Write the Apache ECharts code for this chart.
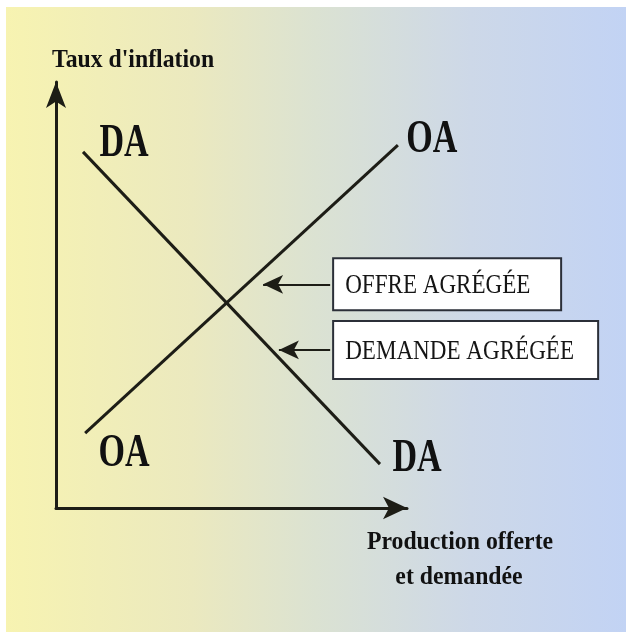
<!DOCTYPE html>
<html>
<head>
<meta charset="utf-8">
<script src="https://cdn.jsdelivr.net/npm/echarts@6/dist/echarts.min.js"></script>
<style>
  html, body { margin: 0; padding: 0; background: #ffffff; }
  #chart { width: 626px; height: 632px; }
</style>
</head>
<body>
<div id="chart"></div>
<script>
// Aggregate supply / demand diagram (abstract units 0..100 on both axes)
const curveNames = ['OA', 'DA'];
const supplyCurve = [[8.3, 17.6], [97.4, 85.2]];   // OA: offre agrégée
const demandCurve = [[7.7, 83.6], [92.3, 10.3]];   // DA: demande agrégée
// pointers from the caption boxes to each curve: [tail, head]
const supplyPointer = [[78.1, 52.5], [59.0, 52.5]];
const demandPointer = [[78.1, 37.1], [63.5, 37.1]];
const captions = ['OFFRE AGRÉGÉE', 'DEMANDE AGRÉGÉE'];
const yAxisTitle = "Taux d'inflation";
const xAxisTitle = ['Production offerte', 'et demandée'];

const ink = '#1d1d16';
const chart = echarts.init(document.getElementById('chart'), null, { renderer: 'canvas' });

function pointer(data) {
  return {
    silent: true,
    symbol: ['none', 'arrow'],
    symbolSize: [14, 20],
    label: { show: false },
    lineStyle: { color: ink, width: 2, type: 'solid' },
    data: [[{ coord: data[0] }, { coord: data[1] }]]
  };
}

const option = {
  animation: false,
  grid: { left: 56, top: 82, right: 219, bottom: 124, containLabel: false },
  xAxis: {
    type: 'value', min: 0, max: 100,
    axisLine: {
      show: true, onZero: false,
      symbol: ['none', 'arrow'], symbolSize: [17, 24], symbolOffset: [0, 0],
      lineStyle: { color: ink, width: 3 }
    },
    axisTick: { show: false }, axisLabel: { show: false }, splitLine: { show: false }
  },
  yAxis: {
    type: 'value', min: 0, max: 100,
    axisLine: {
      show: true, onZero: false,
      symbol: ['none', 'arrow'], symbolSize: [15, 26], symbolOffset: [0, 0],
      lineStyle: { color: ink, width: 3 }
    },
    axisTick: { show: false }, axisLabel: { show: false }, splitLine: { show: false }
  },
  series: [
    {
      name: curveNames[0], type: 'line', data: supplyCurve,
      showSymbol: false, clip: false,
      lineStyle: { color: ink, width: 3 },
      markLine: pointer(supplyPointer)
    },
    {
      name: curveNames[1], type: 'line', data: demandCurve,
      showSymbol: false, clip: false,
      lineStyle: { color: ink, width: 3 },
      markLine: pointer(demandPointer)
    }
  ]
};
chart.setOption(option);

const px = p => chart.convertToPixel({ gridIndex: 0 }, p);
const bigFont = 'bold 46px "Liberation Serif", "Times New Roman", serif';
const titleFont = 'bold 25px "Liberation Serif", "Times New Roman", serif';
const boxFont = '27px "Liberation Serif", "Times New Roman", serif';

function curveLabel(text, anchor, dx, dy) {
  const p = px(anchor);
  return {
    type: 'text', x: p[0] + dx, y: p[1] + dy, scaleX: 0.74, silent: true, z: 10,
    style: { text: text, font: bigFont, fill: '#111', textAlign: 'center', textVerticalAlign: 'middle' }
  };
}

function captionBox(text, tail, w, h) {
  const p = px(tail);
  return [
    {
      type: 'rect', silent: true, z: 5,
      shape: { x: p[0] + 3, y: p[1] - h / 2, width: w, height: h },
      style: { fill: '#ffffff', stroke: '#2b2f38', lineWidth: 2 }
    },
    {
      type: 'text', x: p[0] + 15, y: p[1] + 2, scaleX: 0.855, silent: true, z: 6,
      style: { text: text, font: boxFont, fill: '#151515', textAlign: 'left', textVerticalAlign: 'middle' }
    }
  ];
}

const origin = px([0, 0]);
const graphics = [
  {
    type: 'rect', silent: true, z: -10,
    shape: { x: 6, y: 7, width: 620, height: 625 },
    style: {
      fill: new echarts.graphic.LinearGradient(0, 0, 1, 0, [
        { offset: 0, color: '#f7f3b1' },
        { offset: 0.3, color: '#ebe9bf' },
        { offset: 0.5, color: '#dbe2d2' },
        { offset: 0.75, color: '#cdd8e8' },
        { offset: 1, color: '#c2d3f4' }
      ])
    }
  },
  curveLabel(curveNames[1], demandCurve[0], 41, -8),
  curveLabel(curveNames[0], supplyCurve[0], 39, 21),
  curveLabel(curveNames[0], supplyCurve[1], 34, -5),
  curveLabel(curveNames[1], demandCurve[1], 37, -5),
  ...captionBox(captions[0], supplyPointer[0], 228, 52),
  ...captionBox(captions[1], demandPointer[0], 265, 58),
  {
    type: 'text', x: origin[0] - 4, y: 61, scaleX: 0.95, silent: true, z: 10,
    style: { text: yAxisTitle, font: titleFont, fill: '#111', textAlign: 'left', textVerticalAlign: 'middle' }
  },
  {
    type: 'text', x: 460, y: 543, scaleX: 0.95, silent: true, z: 10,
    style: { text: xAxisTitle[0], font: titleFont, fill: '#111', textAlign: 'center', textVerticalAlign: 'middle' }
  },
  {
    type: 'text', x: 459, y: 578, scaleX: 0.95, silent: true, z: 10,
    style: { text: xAxisTitle[1], font: titleFont, fill: '#111', textAlign: 'center', textVerticalAlign: 'middle' }
  }
];
chart.setOption({ graphic: graphics });
</script>
</body>
</html>
